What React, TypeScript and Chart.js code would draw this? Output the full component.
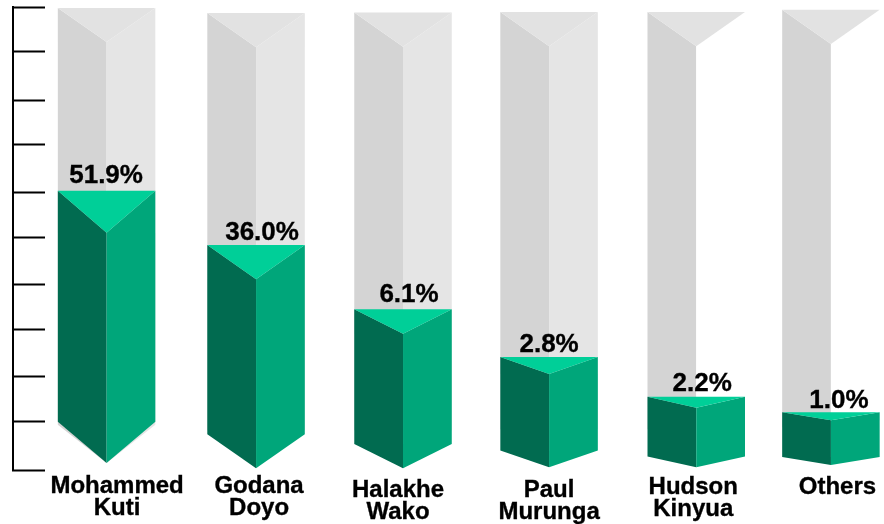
import React, { useEffect, useRef } from "react";
import { Chart, registerables, CategoryScale } from "chart.js";

Chart.register(...registerables);

// ---- data ----
const categories = [
  ["Mohammed", "Kuti"],
  ["Godana", "Doyo"],
  ["Halakhe", "Wako"],
  ["Paul", "Murunga"],
  ["Hudson", "Kinyua"],
  ["Others"],
];
const shares = [51.9, 36.0, 6.1, 2.8, 2.2, 1.0];
// drawn height of each prism on the 0-100 axis (the picture is not to scale)
const fillTops = [60.3, 48.6, 34.7, 24.4, 15.8, 12.5];
const trackTops = [99.8, 98.7, 98.8, 98.9, 98.9, 99.4];
const prismTips = [1.5, 0.4, 0.4, 0.6, 0.6, 1.1];
const axisTicks = [0, 10.37, 20.09, 30.24, 39.96, 50.32, 60.04, 70.2, 79.9, 90.3, 100];

// ---- layout and style, all separate from the data ----
const FONT = '"Liberation Sans", Arial, sans-serif';
const barShift = [21, 25.3, 27.1, 28, 30, 19.5];
const valueDx = [-0.5, 6, 6, 0, 6, 8];
const valueRise = [8, 5, 7, 5.5, 5.5, 4];
const labelDx = [10.5, 3, -5, 0, -3, 6.5];
const labelDrop = [23, 23, 26.5, 26.5, 24, 24];
const LINE_GAP = 22;
const fillFaces = { left: "#016b50", right: "#00a67a", top: "#00cf98" };
const trackFaces = { left: "#d4d4d4", top: "#e2e2e2" };
const trackRight = ["#e5e5e5", "#e5e5e5", "#e5e5e5", "#e5e5e5", "#ffffff", "#ffffff"];

class ShiftedCategoryScale extends CategoryScale {
  static id = "shiftedCategory";
  static defaults = CategoryScale.defaults;
  getPixelForValue(value: any, index?: number) {
    const base = super.getPixelForValue(value);
    const i = typeof index === "number" ? index : typeof value === "number" ? value : 0;
    return base + (barShift[i] ?? 0);
  }
}
Chart.register(ShiftedCategoryScale);

function poly(ctx: CanvasRenderingContext2D, pts: number[][], color: string) {
  ctx.beginPath();
  pts.forEach(([x, y], i) => (i ? ctx.lineTo(x, y) : ctx.moveTo(x, y)));
  ctx.closePath();
  ctx.fillStyle = color;
  ctx.fill();
}

function prism(
  ctx: CanvasRenderingContext2D,
  bar: any,
  topRatio: number,
  bottomRatio: number,
  faces: { left: string; right: string; top: string }
) {
  const { x, y, base, width } = bar;
  const l = x - width / 2;
  const r = x + width / 2;
  const span = base - y;
  const d1 = span * topRatio;
  const d2 = span * bottomRatio;
  poly(ctx, [[l, y], [x, y + d1], [x, base], [l, base - d2]], faces.left);
  poly(ctx, [[r, y], [x, y + d1], [x, base], [r, base - d2]], faces.right);
  poly(ctx, [[l, y], [r, y], [x, y + d1]], faces.top);
}

function heavyText(ctx: CanvasRenderingContext2D, text: string, x: number, y: number) {
  ctx.fillText(text, x, y);
  ctx.strokeText(text, x, y);
}

const prismPlugin = {
  id: "prisms",
  afterDatasetsDraw(chart: any) {
    const { ctx } = chart;
    ctx.save();
    const track = chart.getDatasetMeta(0).data;
    const fill = chart.getDatasetMeta(1).data;
    track.forEach((bar: any, i: number) =>
      prism(ctx, bar, 0.075, 0.084, { ...trackFaces, right: trackRight[i] })
    );
    fill.forEach((bar: any) => prism(ctx, bar, 0.154, 0.152, fillFaces));

    ctx.fillStyle = "#000000";
    ctx.strokeStyle = "#000000";
    ctx.lineWidth = 0.35;
    ctx.textAlign = "center";
    ctx.textBaseline = "alphabetic";
    ctx.font = `bold 26px ${FONT}`;
    fill.forEach((bar: any, i: number) => {
      heavyText(ctx, `${shares[i].toFixed(1)}%`, bar.x + valueDx[i], bar.y - valueRise[i]);
    });
    ctx.font = `bold 24px ${FONT}`;
    const bottom = chart.chartArea.bottom;
    fill.forEach((bar: any, i: number) => {
      categories[i].forEach((line, k) => {
        heavyText(ctx, line, bar.x + labelDx[i], bottom + labelDrop[i] + k * LINE_GAP);
      });
    });
    ctx.restore();
  },
};

export default function App() {
  const ref = useRef<HTMLCanvasElement>(null);
  useEffect(() => {
    if (!ref.current) return;
    const chart = new Chart(ref.current, {
      type: "bar",
      data: {
        labels: categories.map((c) => c.join(" ")),
        datasets: [
          {
            label: "Track",
            data: trackTops.map((t, i) => [prismTips[i], t]),
            backgroundColor: "transparent",
            barThickness: 97.5,
            grouped: false,
          },
          {
            label: "Share",
            data: fillTops.map((t, i) => [prismTips[i], t]),
            backgroundColor: "transparent",
            barThickness: 97.5,
            grouped: false,
          },
        ],
      } as any,
      options: {
        responsive: false,
        animation: false,
        events: [],
        layout: { padding: { top: 7, bottom: 54, left: 0, right: 0 } },
        plugins: { legend: { display: false }, tooltip: { enabled: false } },
        scales: {
          x: { type: "shiftedCategory", display: false, offset: true } as any,
          y: {
            position: "left",
            min: 0,
            max: 100,
            afterBuildTicks: (s: any) => {
              s.ticks = axisTicks.map((value) => ({ value }));
            },
            afterFit: (s: any) => {
              s.width = 13;
            },
            ticks: { display: false },
            border: { display: true, color: "#000000", width: 2 },
            grid: {
              drawOnChartArea: false,
              drawTicks: true,
              tickLength: -32,
              tickColor: "#000000",
              tickWidth: 2,
            },
          },
        },
      },
      plugins: [prismPlugin],
    } as any);
    return () => chart.destroy();
  }, []);
  return (
    <div style={{ position: "fixed", left: 0, top: 0, width: 884, height: 524, background: "#ffffff" }}>
      <canvas ref={ref} width={884} height={524} style={{ display: "block" }} />
    </div>
  );
}
